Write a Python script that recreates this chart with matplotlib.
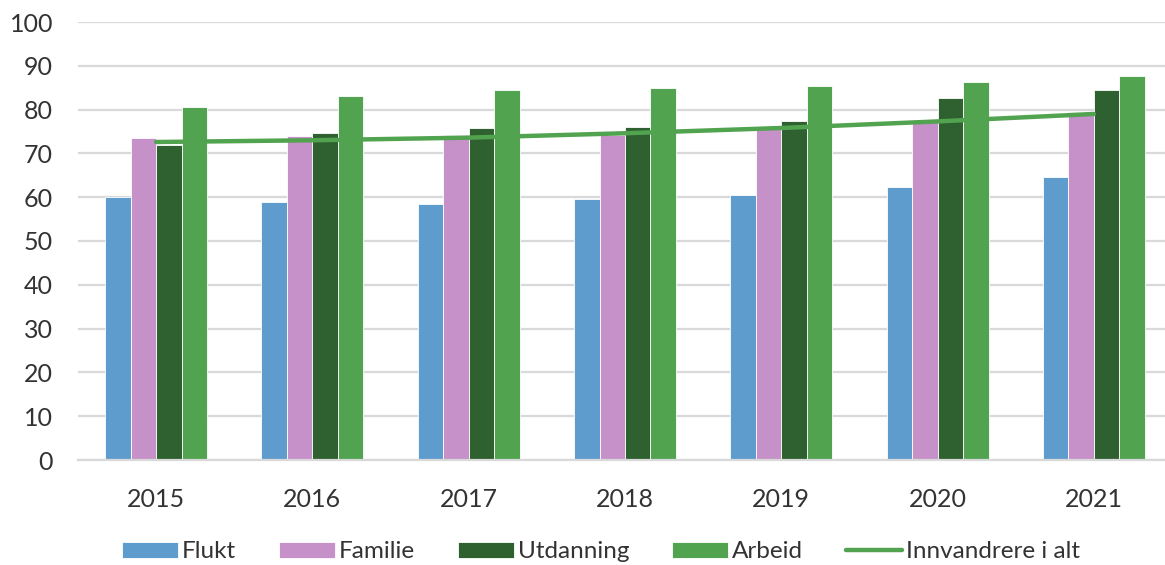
import numpy as np
import matplotlib.pyplot as plt

years = ['2015', '2016', '2017', '2018', '2019', '2020', '2021']
flukt = [60.0, 58.8, 58.4, 59.5, 60.5, 62.4, 64.6]
familie = [73.6, 73.9, 74.1, 74.2, 76.0, 77.6, 79.4]
utdanning = [72.0, 74.7, 75.8, 76.1, 77.4, 82.6, 84.5]
arbeid = [80.7, 83.0, 84.5, 85.0, 85.5, 86.3, 87.6]
innvandrere = [72.6, 73.0, 73.6, 74.6, 75.8, 77.3, 79.0]

series = [('Flukt', flukt, '#5f9cce'),
          ('Familie', familie, '#c690c8'),
          ('Utdanning', utdanning, '#2e612f'),
          ('Arbeid', arbeid, '#51a350')]

plt.rcParams['font.family'] = ['Lato', 'DejaVu Sans']
text_col = '#333333'
grid_col = '#d9d9d9'

fig = plt.figure(figsize=(11.65, 5.65), dpi=100)
ax = fig.add_axes([78 / 1165, 105 / 565, 1094 / 1165, 438 / 565])

x = np.arange(len(years))
w = 0.163
handles = []
for i, (name, vals, col) in enumerate(series):
    b = ax.bar(x + (i - 1.5) * w, vals, width=w, color=col, label=name,
               edgecolor='#ffffff', linewidth=0.6, zorder=2)
    handles.append(b)

line, = ax.plot(x, innvandrere, color='#51a350', linewidth=3.2,
                solid_capstyle='round', label='Innvandrere i alt', zorder=3)
handles.append(line)

ax.set_xlim(-0.5, len(years) - 0.5)
ax.set_ylim(0, 100)
ax.set_yticks(range(0, 101, 10))
ax.set_xticks(x)
ax.set_xticklabels(years)
ax.yaxis.grid(True, color=grid_col, linewidth=1.6, zorder=0)
ax.set_axisbelow(True)
for s in ['top', 'right', 'left']:
    ax.spines[s].set_visible(False)
ax.spines['bottom'].set_color(grid_col)
ax.spines['bottom'].set_linewidth(1.6)
ax.tick_params(axis='both', length=0, labelsize=18, colors=text_col)
ax.tick_params(axis='x', pad=20)
ax.tick_params(axis='y', pad=18)

leg = fig.legend(handles=handles, loc='center',
                 bbox_to_anchor=(601 / 1165, 13 / 565), ncol=5,
                 frameon=False, fontsize=17.5, handlelength=2.3, handleheight=0.6,
                 handletextpad=0.15, columnspacing=1.78)
for t in leg.get_texts():
    t.set_color(text_col)

fig.savefig('out.png', dpi=100)
